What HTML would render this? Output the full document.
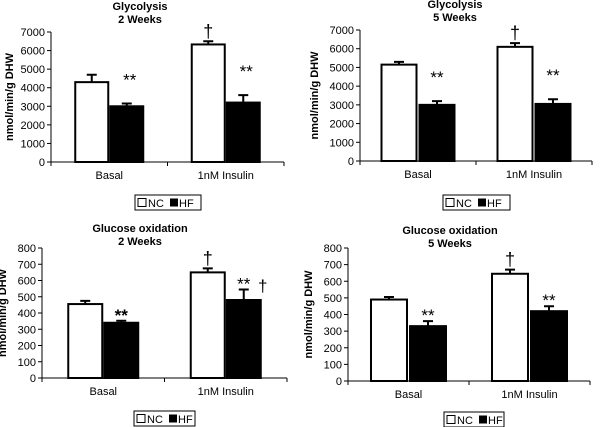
<!DOCTYPE html>
<html><head><meta charset="utf-8">
<style>
body{margin:0;background:#fff;}
svg{display:block;font-family:"Liberation Sans",Arial,sans-serif;}
</style></head>
<body>
<svg id="c" width="602" height="427" viewBox="0 0 602 427"></svg>
<script>
const categories = ["Basal", "1nM Insulin"];
const seriesNames = ["NC", "HF"];
const gly2NC = [4300, 6330], gly2NCErr = [400, 170];
const gly2HF = [3000, 3200], gly2HFErr = [150, 400];
const gly5NC = [5150, 6100], gly5NCErr = [150, 200];
const gly5HF = [3000, 3050], gly5HFErr = [200, 250];
const go2NC = [455, 650], go2NCErr = [20, 25];
const go2HF = [340, 480], go2HFErr = [12, 65];
const go5NC = [490, 645], go5NCErr = [15, 25];
const go5HF = [330, 420], go5HFErr = [30, 30];
const glyTicks = [0,1000,2000,3000,4000,5000,6000,7000];
const goTicks = [0,100,200,300,400,500,600,700,800];

const NS = "http://www.w3.org/2000/svg";
const svg = document.getElementById("c");
function mk(tag, attrs, parent, text){
  const e = document.createElementNS(NS, tag);
  for (const k in attrs) e.setAttribute(k, attrs[k]);
  if (text !== undefined) e.textContent = text;
  (parent||svg).appendChild(e);
  return e;
}
function panel(p){
  const g = mk("g", {});
  
  
  const ymax = p.ticks[p.ticks.length-1];
  const y = v => p.y0 - (v/ymax)*(p.y0 - p.ytop);
  const t1 = mk("text",{x:p.tx,y:p.ty,"text-anchor":"middle","font-size":"11","font-weight":"bold"},g,p.title1);
  
  
  const t2 = mk("text",{x:p.tx,y:p.ty+13,"text-anchor":"middle","font-size":"11","font-weight":"bold"},g,p.title2);
  
  
  const ya = mk("line",{x1:p.x0,y1:p.ytop,x2:p.x0,y2:p.y0,stroke:"#000","stroke-width":1},g);
  
  
  const xa = mk("line",{x1:p.x0,y1:p.y0,x2:p.x1,y2:p.y0,stroke:"#000","stroke-width":1},g);
  
  
  p.ticks.forEach(t=>{
    mk("line",{x1:p.x0-4,y1:y(t),x2:p.x0,y2:y(t),stroke:"#000"},g);
    const tl = mk("text",{x:p.x0-6,y:y(t)+4,"text-anchor":"end","font-size":"11"},g,String(t));
    
    
  });
  const mid = (p.x0+p.x1)/2;
  [p.x0, mid, p.x1].forEach(xx=>mk("line",{x1:xx,y1:p.y0,x2:xx,y2:p.y0+4,stroke:"#000"},g));
  const yt = mk("text",{x:0,y:0,"text-anchor":"middle","font-size":"11","font-weight":"bold",
    transform:`translate(${p.yx},${(p.y0+p.ytop)/2}) rotate(-90)`},g,"nmol/min/g DHW");
  
  
  const catW = (p.x1-p.x0)/2;
  categories.forEach((c,i)=>{
    const cx = p.x0 + catW*(i+0.5);
    const cl = mk("text",{x:cx,y:p.y0+17,"text-anchor":"middle","font-size":"11"},g,c);
    
    
    [[p.nc,p.ncErr,"#fff",-1],[p.hf,p.hfErr,"#000",1]].forEach(([vals,errs,fill,side],s)=>{
      const bx = side<0 ? cx - p.gap/2 - p.bw : cx + p.gap/2;
      const top = y(vals[i]);
      const bar = mk("rect",{x:bx,y:top,width:p.bw,height:p.y0-top,fill:fill,stroke:"#000","stroke-width":2},g);
      
      
      const ex = bx + p.bw/2, ey = y(vals[i]+errs[i]);
      const eb = mk("path",{d:`M${ex},${top} L${ex},${ey} M${ex-5},${ey} L${ex+5},${ey}`,stroke:"#000","stroke-width":2,fill:"none"},g);
      
      
      if (s===1){
        const st = mk("text",{x:ex+p.starDx,y:ey-p.starDy,"text-anchor":"middle","font-size":"17","font-weight":p.starBold&&i===0?"bold":"normal"},g,"**");
        
        
        if (i===1 && p.daggerHF){
          const d = mk("text",{x:ex+19,y:ey+2,"text-anchor":"middle","font-size":"17"},g,"†");
          
          
        }
      } else if (i===1){
        const d = mk("text",{x:ex,y:ey-4,"text-anchor":"middle","font-size":"18"},g,"†");
        
        
      }
    });
  });
  const lg = mk("g",{},g);
  
  
  mk("rect",{x:p.lx,y:p.ly,width:p.lw,height:15,fill:"#fff",stroke:"#000","stroke-width":1},lg);
  mk("rect",{x:p.lx+3,y:p.ly+3.5,width:8,height:8,fill:"#fff",stroke:"#000"},lg);
  const l1 = mk("text",{x:p.lx+13,y:p.ly+12,"font-size":"11"},lg,"NC");
  
  
  mk("rect",{x:p.lx+35,y:p.ly+3.5,width:8,height:8,fill:"#000"},lg);
  const l2 = mk("text",{x:p.lx+44,y:p.ly+12,"font-size":"11"},lg,"HF");
  
  
}
panel({name:"glycolysis-2-weeks",title1:"Glycolysis",title2:"2 Weeks",tx:140,ty:10,x0:51,x1:284,y0:162,ytop:32,ticks:glyTicks,yx:13,
  nc:gly2NC,ncErr:gly2NCErr,hf:gly2HF,hfErr:gly2HFErr,bw:33,gap:2,starDx:3,starDy:18,lx:135,ly:195,lw:66});
panel({name:"glycolysis-5-weeks",title1:"Glycolysis",title2:"5 Weeks",tx:455,ty:8,x0:360,x1:592,y0:161,ytop:30,ticks:glyTicks,yx:318,
  nc:gly5NC,ncErr:gly5NCErr,hf:gly5HF,hfErr:gly5HFErr,bw:35,gap:3,starDx:0,starDy:18,lx:443,ly:195,lw:67});
panel({name:"glucose-oxidation-2-weeks",title1:"Glucose oxidation",title2:"2 Weeks",tx:140,ty:232,x0:42,x1:287,y0:378,ytop:248,ticks:goTicks,yx:6,
  nc:go2NC,ncErr:go2NCErr,hf:go2HF,hfErr:go2HFErr,bw:34,gap:2,starDx:0,starDy:0,starBold:true,daggerHF:true,lx:134,ly:411,lw:61});
panel({name:"glucose-oxidation-5-weeks",title1:"Glucose oxidation",title2:"5 Weeks",tx:450,ty:234,x0:348,x1:590,y0:381,ytop:248,ticks:goTicks,yx:312,
  nc:go5NC,ncErr:go5NCErr,hf:go5HF,hfErr:go5HFErr,bw:36,gap:3,starDx:0,starDy:0,lx:444,ly:412,lw:60});
</script>
</body></html>
